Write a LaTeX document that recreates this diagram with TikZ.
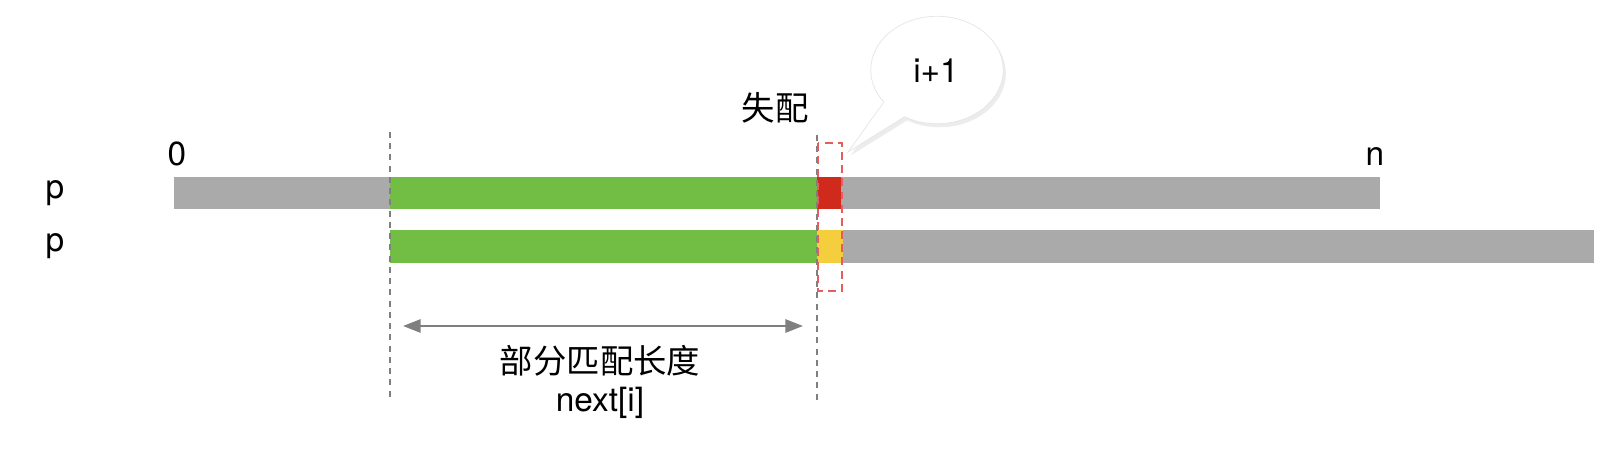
\documentclass[tikz,border=0pt]{standalone}
\usepackage{fontspec}
\setmainfont{TeX Gyre Heros}
\newfontfamily\cjk{Noto Sans CJK SC}
\usetikzlibrary{arrows.meta, shapes.callouts, shadows}

\begin{document}
\begin{tikzpicture}[x=0.02cm, y=-0.02cm, font=\fontsize{19}{23}\selectfont]
    % Define colours
    \definecolor{barGrey}{HTML}{AAAAAA}
    \definecolor{matchGreen}{HTML}{72BE45}
    \definecolor{missRed}{HTML}{CF2A1C}
    \definecolor{nextYellow}{HTML}{F4CE3C}
    \definecolor{cutGrey}{HTML}{7F7F7F}
    \definecolor{boxRed}{HTML}{E35F5F}

    % Define styles
    \tikzset{
        cutline/.style={draw=cutGrey, line width=1.3pt, dash pattern=on 3.4pt off 3pt},
        missbox/.style={draw=boxRed, line width=1.4pt, dash pattern=on 4.5pt off 3pt},
        lenarrow/.style={draw=cutGrey, line width=1.2pt, {Triangle[length=10pt,width=7.5pt]}-{Triangle[length=10pt,width=7.5pt]}},
        label/.style={inner sep=0pt}
    }

    % Fix the picture size
    \useasboundingbox (0,0) rectangle (1622,460);

    % Define bar heights
    \def\topA{177} \def\topB{209}
    \def\botA{230} \def\botB{263}

    % Draw first row: pattern against text
    \fill[barGrey] (174,\topA) rectangle (1380,\topB);
    \fill[matchGreen] (390,\topA) rectangle (817,\topB);
    \fill[missRed] (817,\topA) rectangle (841,\topB);

    % Draw second row: shifted pattern
    \fill[barGrey] (843,\botA) rectangle (1594,\botB);
    \fill[matchGreen] (390,\botA) rectangle (817,\botB);
    \fill[nextYellow] (817,\botA) rectangle (843,\botB);

    % Row labels
    \node[label] (rowA) at (55,193) {p};
    \node[label] (rowB) at (55,246) {p};

    % Index labels
    \node[label, anchor=base] (idx0) at (177,165) {0};
    \node[label, anchor=base] (idxn) at (1375,165) {n};

    % Draw dashed cut lines
    \coordinate (cutLtop) at (390,132);
    \coordinate (cutLbot) at (390,400);
    \coordinate (cutRtop) at (817,135);
    \coordinate (cutRbot) at (817,400);
    \draw[cutline] (cutLtop) -- (cutLbot);
    \draw[cutline] (cutRtop) -- (cutRbot);

    % Mismatch box and its label
    \draw[missbox] (818,143) rectangle (842,291);
    \node[label] (miss) at (775,108) {\cjk 失配};

    % Callout pointing at the mismatch box
    \node[ellipse callout, draw=gray!20, fill=white, minimum width=2.65cm, minimum height=2.15cm,
          callout absolute pointer={(848,152)}, callout pointer arc=24,
          drop shadow={opacity=0.15, shadow xshift=1.5pt, shadow yshift=-2pt}] (bubble) at (937,70) {};
    \node[label, anchor=base] (iplus) at (936,82) {i+1};

    % Partial match length arrow
    \coordinate (lenL) at (403,326);
    \coordinate (lenR) at (803,326);
    \draw[lenarrow] (lenL) -- (lenR);
    \node[label] (lenText) at (600,361) {\cjk 部分匹配长度};
    \node[label, anchor=base] (nextText) at (600,411) {next[i]};

\end{tikzpicture}
\end{document}
